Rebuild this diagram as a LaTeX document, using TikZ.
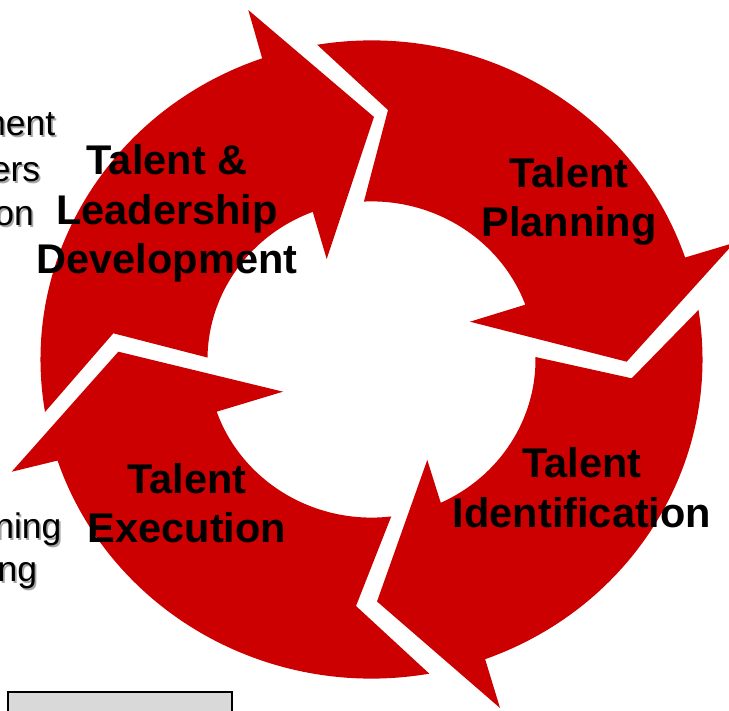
\documentclass[tikz,border=0pt]{standalone}
\usepackage{fontspec}
\setmainfont{Liberation Sans}
\definecolor{cycle-red}{HTML}{CC0000}
\definecolor{shadow-grey}{HTML}{A6A6A6}
\definecolor{box-grey}{HTML}{D9D9D9}
\tikzset{
    cycle-arrow/.style = {fill=cycle-red},
    cycle-label/.style = {align=center, inner sep=0pt, font=\bfseries\fontsize{41.5}{49.5}\selectfont},
    side-text/.style = {anchor=base east, inner sep=0pt, font=\fontsize{35.5}{42}\selectfont},
    side-shadow/.style = {side-text, text=shadow-grey},
}
\newcommand{\sidetext}[3]{%
    \node[side-shadow] (#1-shadow) at ([shift={(1.8,-1.8)}]#2) {#3};
    \node[side-text] (#1) at (#2) {#3};
}

\begin{document}
\begin{tikzpicture}[x=1pt, y=1pt]
\useasboundingbox (0,0) rectangle (729,711);
\clip (0,0) rectangle (729,711);

% four arrows round the ring
\begin{scope}[shift={(371.5,351.5)}, yscale=0.964]
\def\ro{331} \def\ri{164}
% planning
\fill[cycle-arrow] (99.45:\ro) arc[start angle=99.45, end angle=18.64, radius=\ro]
    -- (18.45:382.4) -- (-0.51:255.2) -- (21.7:106) -- (20.29:\ri)
    arc[start angle=20.29, end angle=92.65, radius=\ri] -- (86.35:259.3) -- cycle;
% identification
\fill[cycle-arrow] (8.93:\ro) arc[start angle=8.93, end angle=-69.92, radius=\ro]
    -- (-70.43:383.7) -- (-88.74:251.1) -- (-61.84:118.2) -- (-65.02:\ri)
    arc[start angle=-65.02, end angle=0.9, radius=\ri] -- (-4.29:260.9) -- cycle;
% execution
\fill[cycle-arrow] (-79.94:\ro) arc[start angle=-79.94, end angle=-161.53, radius=\ro]
    -- (-162.07:378.2) -- (178.17:253.3) -- (-159.33:94.6) -- (-160.72:\ri)
    arc[start angle=-160.72, end angle=-83.08, radius=\ri] -- (-93.47:256.2) -- cycle;
% leadership
\fill[cycle-arrow] (189.47:\ro) arc[start angle=189.47, end angle=109.29, radius=\ro]
    -- (108.77:382.9) -- (89.43:251.6) -- (113.26:113.5) -- (110.99:\ri)
    arc[start angle=110.99, end angle=179.29, radius=\ri] -- (173.99:259.6) -- cycle;
\end{scope}

\node[cycle-label] (planning) at (569,509.5) {Talent\\Planning};
\node[cycle-label] (identification) at (582,223.3) {Talent\\Identification};
\node[cycle-label] (execution) at (187,207.8) {Talent\\Execution};
\node[cycle-label] (leadership) at (167,497.5) {Talent \&\\Leadership\\Development};

% cut-off texts on the left
\sidetext{ment}{55.5,575}{ment}
\sidetext{ers}{40.3,529.5}{ers}
\sidetext{on}{34,485.5}{on}
\sidetext{ning}{61.6,172}{ning}
\sidetext{ng}{37.3,129}{ng}

\draw[line width=2pt, fill=box-grey] (8.3,19) rectangle (232.3,-20);
\end{tikzpicture}
\end{document}
